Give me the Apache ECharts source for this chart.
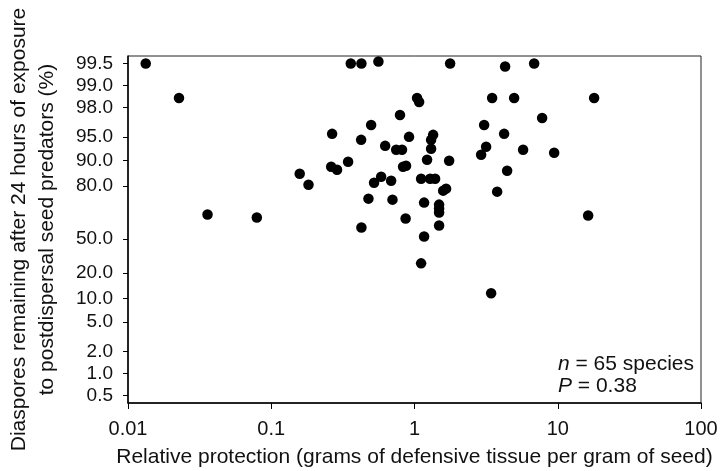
<!DOCTYPE html>
<html>
<head>
<meta charset="utf-8">
<title>Seed protection vs. diaspores remaining</title>
<script src="https://cdn.jsdelivr.net/npm/echarts@6/dist/echarts.min.js"></script>
<style>
  html, body { margin: 0; padding: 0; background: #fff; }
  #chart { width: 720px; height: 471px; }
</style>
</head>
<body>
<div id="chart"></div>
<script>
// relative protection (g defensive tissue per g seed)
var protection = [
  0.0133, 0.359, 0.426, 0.560, 1.773, 6.842, 4.292,
  0.0227, 1.042, 1.077, 3.483, 4.961, 17.95,
  0.792, 7.780, 0.498, 3.063,
  0.266, 0.424, 0.916, 1.349, 1.306, 4.223,
  0.624, 0.745, 0.818, 1.306, 3.162, 2.918, 5.730, 9.44,
  0.344, 0.262, 0.288, 1.224, 1.745, 0.832, 0.873, 4.433,
  0.158, 0.182, 0.585, 0.522, 0.687, 1.112, 1.285, 1.393,
  1.585, 1.662, 3.776,
  0.477, 0.702, 1.167, 1.485, 1.485, 1.485,
  0.0359, 0.0793, 0.867, 16.3,
  0.426, 1.485, 1.167,
  1.112, 3.428
];
// diaspores remaining after 24 h (%)
var remaining = [
  99.50, 99.50, 99.50, 99.53, 99.50, 99.50, 99.45,
  98.51, 98.51, 98.31, 98.51, 98.51, 98.51,
  97.47, 97.22, 96.55, 96.55,
  95.47, 94.57, 95.04, 95.33, 94.57, 95.47,
  93.50, 92.69, 92.69, 92.90, 93.31, 91.53, 92.69, 92.01,
  89.65, 88.08, 87.05, 90.22, 89.94, 88.08, 88.41, 86.68,
  85.54, 80.67, 84.33, 81.64, 82.58, 83.47, 83.47, 83.47,
  77.52, 78.62, 76.96,
  72.79, 72.15, 70.20, 68.86, 66.08, 63.17,
  61.69, 59.41, 58.64, 60.93,
  51.59, 53.17, 44.47,
  25.37, 11.59
];

// y ticks (percent). the source draws its 50.0 mark a bit low, so its
// position is kept separately from its label
var yTickAt     = [0.5, 1, 2, 5, 10, 20, 42.6, 80, 90, 95, 98, 99, 99.5];
var yTickLabels = ['0.5', '1.0', '2.0', '5.0', '10.0', '20.0', '50.0',
                   '80.0', '90.0', '95.0', '98.0', '99.0', '99.5'];
var xTickLabels = ['0.01', '0.1', '1', '10', '100'];

function logit(p) { var f = p / 100; return Math.log(f / (1 - f)); }

var yTickPos = yTickAt.map(logit);
var points = protection.map(function (x, i) { return [x, logit(remaining[i])]; });

var font = '"Liberation Sans", Arial, Helvetica, sans-serif';
var chart = echarts.init(document.getElementById('chart'));

chart.setOption({
  animation: false,
  grid: {
    left: 128, right: 19, top: 56, bottom: 68,
    containLabel: false, outerBoundsMode: 'none',
    show: true, borderColor: '#222', borderWidth: 1
  },
  xAxis: {
    type: 'log', logBase: 10, min: 0.01, max: 100,
    name: 'Relative protection (grams of defensive tissue per gram of seed)',
    nameLocation: 'middle', nameGap: 44,
    nameTextStyle: { fontFamily: font, fontSize: 21, color: '#111' },
    axisLine: { onZero: false, lineStyle: { color: '#000', width: 1.5 } },
    axisTick: { length: 6, lineStyle: { color: '#000' } },
    minorTick: { show: false },
    splitLine: { show: false },
    axisLabel: {
      margin: 16, fontFamily: font, fontSize: 20, color: '#111',
      formatter: function (v) {
        var k = Math.round(Math.log10(v)) + 2;
        return xTickLabels[k] !== undefined ? xTickLabels[k] : '';
      }
    }
  },
  yAxis: {
    type: 'value', min: -5.53, max: 5.53,
    name: 'Diaspores remaining after 24 hours of exposure\nto postdispersal seed predators (%)',
    nameLocation: 'middle', nameGap: 67,
    nameTextStyle: { fontFamily: font, fontSize: 21, color: '#111', lineHeight: 28 },
    axisLine: { show: true, onZero: false, lineStyle: { color: '#000', width: 1.5 } },
    axisTick: { show: true, length: 5, customValues: yTickPos, lineStyle: { color: '#000' } },
    splitLine: { show: false },
    axisLabel: {
      customValues: yTickPos,
      margin: 15, fontFamily: font, fontSize: 19, color: '#111',
      formatter: function (v) {
        for (var i = 0; i < yTickPos.length; i++) {
          if (Math.abs(yTickPos[i] - v) < 1e-6) return yTickLabels[i];
        }
        return '';
      }
    }
  },
  graphic: [{
    type: 'text', left: 558, top: 353,
    style: {
      text: '{i|n} = 65 species\n{i|P} = 0.38',
      font: '21px ' + font, fill: '#111', lineHeight: 22,
      rich: { i: { fontStyle: 'italic', fontFamily: font, fontSize: 21, fill: '#111', lineHeight: 22 } }
    }
  }],
  series: [{
    type: 'scatter',
    data: points,
    symbolSize: 10.5,
    itemStyle: { color: '#000', opacity: 1 }
  }]
});
</script>
</body>
</html>
